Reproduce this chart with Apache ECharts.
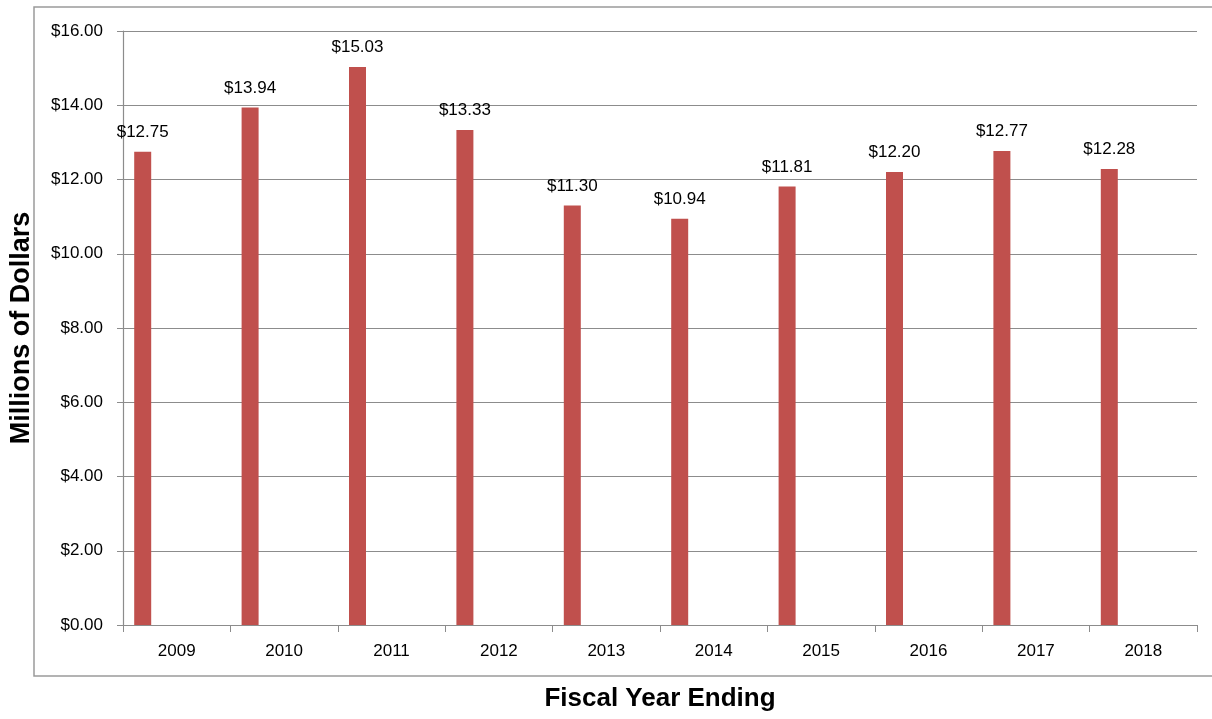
<!DOCTYPE html>
<html>
<head>
<meta charset="utf-8">
<script src="https://cdn.jsdelivr.net/npm/echarts@6/dist/echarts.min.js"></script>
<style>
  html, body { margin: 0; padding: 0; background: #fff; }
  #chart { width: 1212px; height: 719px; }
</style>
</head>
<body>
<div id="chart"></div>
<script>
// fiscal years and spending, millions of dollars
var years = ['2009', '2010', '2011', '2012', '2013', '2014', '2015', '2016', '2017', '2018'];
var amounts = [12.75, 13.94, 15.03, 13.33, 11.30, 10.94, 11.81, 12.20, 12.77, 12.28];
var yTicks = [0, 2, 4, 6, 8, 10, 12, 14, 16];

var gridColor = '#8c8c8c';
var font = '"Liberation Sans", Arial, sans-serif';

// the original sheet had empty series next to the real one, so the bar sits left in its slot
var empty = years.map(function () { return '-'; });
function blank(name) {
  return { name: name, type: 'bar', barWidth: 17, barGap: '0%', data: empty, silent: true };
}

var chart = echarts.init(document.getElementById('chart'));
chart.setOption({
  animation: false,
  grid: { left: 123, right: 15, top: 31, bottom: 94, outerBoundsMode: 'none', containLabel: false },
  graphic: [{
    type: 'rect',
    shape: { x: 34, y: 7, width: 1190, height: 669 },
    style: { fill: 'none', stroke: '#9a9a9a', lineWidth: 1.5 },
    z: -1
  }],
  xAxis: {
    type: 'category',
    data: years,
    name: 'Fiscal Year Ending',
    nameLocation: 'middle',
    nameGap: 61,
    nameMoveOverlap: false,
    nameTextStyle: { fontFamily: font, fontWeight: 'bold', fontSize: 26, color: '#000' },
    axisLine: { lineStyle: { color: gridColor, width: 1.2 } },
    axisTick: { show: true, interval: 0, length: 7, lineStyle: { color: gridColor } },
    axisLabel: { margin: 18, fontFamily: font, fontSize: 17, color: '#000' }
  },
  yAxis: {
    type: 'value',
    min: yTicks[0],
    max: yTicks[yTicks.length - 1],
    interval: yTicks[1] - yTicks[0],
    name: 'Millions of Dollars',
    nameLocation: 'middle',
    nameRotate: 90,
    nameGap: 88,
    nameMoveOverlap: false,
    nameTextStyle: { fontFamily: font, fontWeight: 'bold', fontSize: 27, color: '#000' },
    axisLine: { show: true, lineStyle: { color: gridColor, width: 1.2 } },
    axisTick: { show: true, length: 6, lineStyle: { color: gridColor } },
    splitLine: { lineStyle: { color: gridColor, width: 1.2 } },
    axisLabel: {
      margin: 20, fontFamily: font, fontSize: 17, color: '#000',
      formatter: function (v) { return '$' + v.toFixed(2); }
    }
  },
  series: [{
    name: 'Amount',
    type: 'bar',
    barWidth: 17,
    barGap: '0%',
    data: amounts,
    itemStyle: { color: '#c0504d' },
    label: {
      show: true,
      position: 'top',
      distance: 11,
      fontFamily: font,
      fontSize: 17,
      color: '#000',
      formatter: function (p) { return '$' + p.value.toFixed(2); }
    }
  }, blank('b1'), blank('b2'), blank('b3'), blank('b4')]
});
</script>
</body>
</html>
